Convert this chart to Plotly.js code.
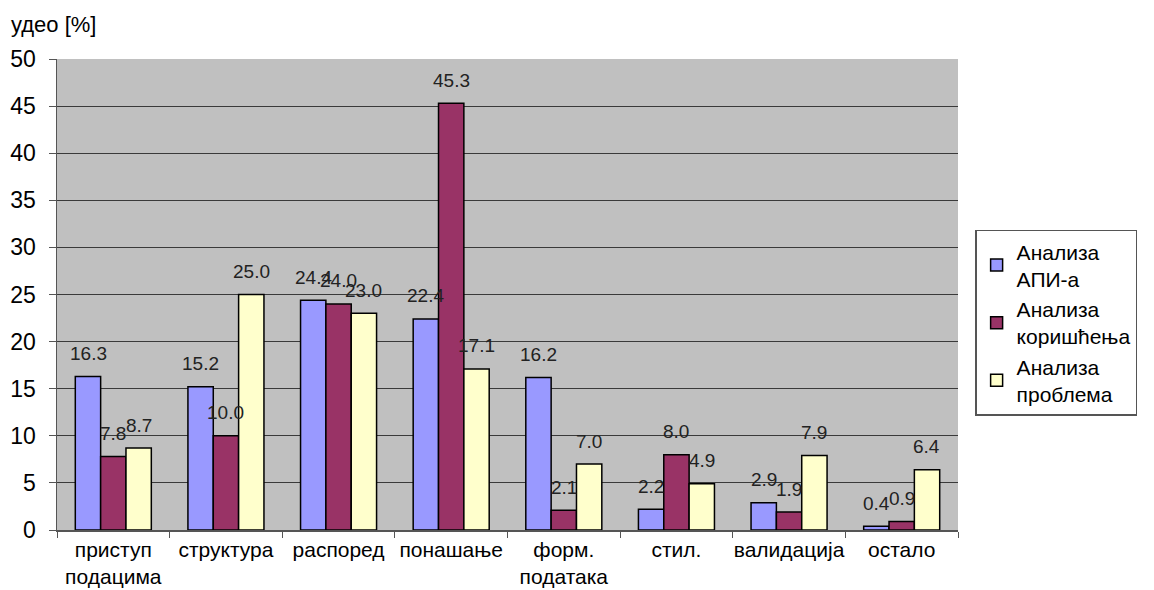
<!DOCTYPE html>
<html>
<head>
<meta charset="utf-8">
<script src="https://cdn.plot.ly/plotly-3.0.1.min.js"></script>
<style>html,body{margin:0;padding:0;background:#fff;}#chart{width:1154px;height:590px;}</style>
</head>
<body>
<div id="chart"></div>
<script>
const categories = ["приступ<br>подацима", "структура", "распоред", "понашање", "форм.<br>података", "стил.", "валидација", "остало"];
const seriesNames = ["Анализа<br>АПИ-а", "Анализа<br>коришћења", "Анализа<br>проблема"];
const apiValues = [16.3, 15.2, 24.4, 22.4, 16.2, 2.2, 2.9, 0.4];
const usageValues = [7.8, 10.0, 24.0, 45.3, 2.1, 8.0, 1.9, 0.9];
const problemValues = [8.7, 25.0, 23.0, 17.1, 7.0, 4.9, 7.9, 6.4];
const yTicks = [0, 5, 10, 15, 20, 25, 30, 35, 40, 45, 50];

const colors = ["#9999FF", "#993366", "#FFFFCC"];
const allSeries = [apiValues, usageValues, problemValues];
const font = "Liberation Sans, Arial, sans-serif";

const traces = allSeries.map((vals, i) => ({
  type: "bar",
  name: seriesNames[i],
  x: categories,
  y: vals,
  marker: {color: colors[i], line: {color: "#000000", width: 1.5}},
  hoverinfo: "y"
}));

const annotations = [];
const barPx = 25.3;
allSeries.forEach((vals, i) => {
  vals.forEach((v, j) => {
    annotations.push({
      x: categories[j], y: v, xref: "x", yref: "y",
      text: v.toFixed(1), showarrow: false,
      xshift: (i - 1) * barPx, yshift: 23,
      font: {family: font, size: 19, color: "#222222"}
    });
  });
});
annotations.push({
  xref: "paper", yref: "paper", x: 0, y: 1, xshift: -48, yshift: 20,
  xanchor: "left", yanchor: "bottom", text: "удео [%]", showarrow: false,
  font: {family: font, size: 22, color: "#000000"}
});

const layout = {
  width: 1154, height: 590,
  margin: {l: 57, r: 196, t: 59, b: 60},
  paper_bgcolor: "#ffffff",
  plot_bgcolor: "#C0C0C0",
  barmode: "group",
  bargap: 0.325,
  bargroupgap: 0,
  font: {family: font, size: 21, color: "#000000"},
  xaxis: {
    type: "category",
    showline: true, linecolor: "#555555", linewidth: 1.5,
    ticks: "outside", tickson: "boundaries", ticklen: 6, tickcolor: "#555555",
    tickangle: 0,
    showgrid: false,
    tickfont: {family: font, size: 21, color: "#000000"}
  },
  yaxis: {
    range: [0, 50], tickvals: yTicks, ticktext: yTicks.map(String),
    showline: true, linecolor: "#555555", linewidth: 1.5,
    ticks: "outside", ticklen: 7, tickcolor: "#555555",
    ticklabelstandoff: 8,
    showgrid: true, gridcolor: "#3a3a3a", gridwidth: 1,
    zeroline: false,
    tickfont: {family: font, size: 23, color: "#000000"}
  },
  legend: {
    x: 1.019, y: 0.44, xanchor: "left", yanchor: "middle",
    bgcolor: "#ffffff", bordercolor: "#555555", borderwidth: 1.5,
    font: {family: font, size: 21, color: "#000000"},
    tracegroupgap: 0, itemwidth: 30
  },
  annotations: annotations,
  showlegend: true
};

Plotly.newPlot("chart", traces, layout, {displayModeBar: false, staticPlot: true});
</script>
</body>
</html>
